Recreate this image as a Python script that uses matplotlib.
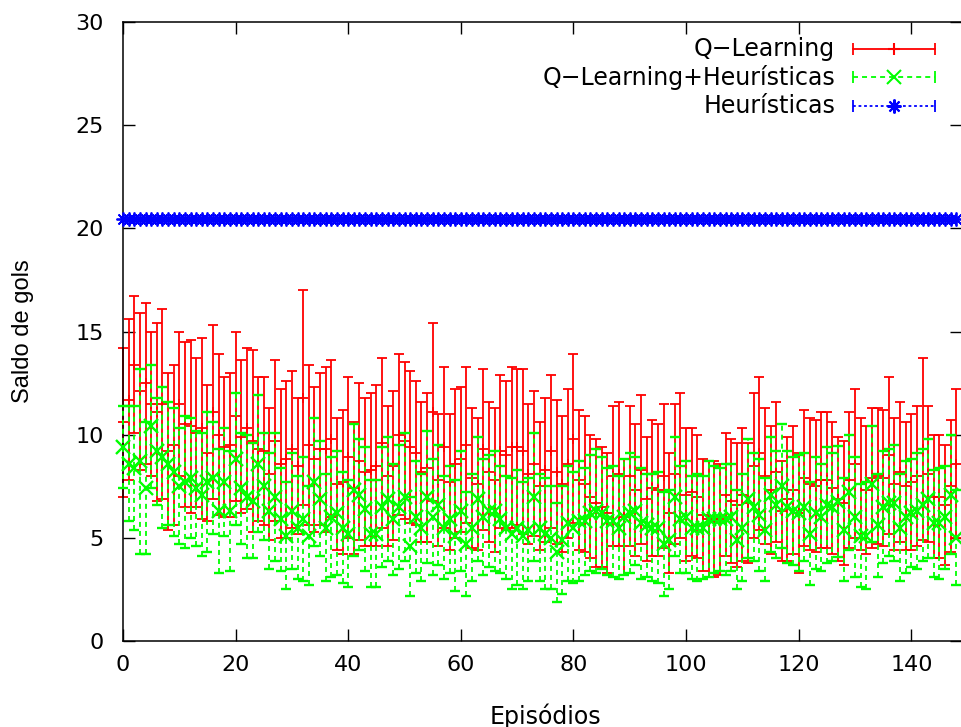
import numpy as np
import matplotlib
matplotlib.use("Agg")
import matplotlib.pyplot as plt
from matplotlib.lines import Line2D

plt.rcParams["font.family"] = ["DejaVu Sans"]
plt.rcParams["lines.scale_dashes"] = False

# ---- data ----
episodes = np.arange(149)

ql_mean = [
    10.6, 11.7, 13.4, 12.1, 12.5, 11.5, 11.1, 11.5, 9.2, 9.5,
    11.5, 10.5, 10.4, 10.1, 10.3, 9.1, 11.1, 10.0, 9.4, 9.5,
    10.9, 9.9, 10.3, 9.7, 9.3, 9.2, 8.1, 9.7, 8.6, 8.8,
    9.3, 8.5, 11.8, 9.5, 8.8, 9.3, 9.3, 9.8, 7.6, 7.7,
    8.9, 7.4, 8.7, 8.2, 8.3, 8.5, 9.6, 8.0, 8.5, 10.0,
    9.7, 9.4, 9.1, 8.2, 8.4, 11.1, 7.8, 9.4, 7.7, 8.6,
    8.8, 9.5, 7.9, 7.6, 9.3, 8.2, 7.8, 9.2, 9.0, 9.4,
    9.4, 9.2, 8.1, 8.6, 7.5, 8.3, 9.2, 8.2, 7.6, 8.6,
    9.8, 7.8, 7.6, 7.0, 6.7, 6.5, 6.2, 8.0, 8.1, 6.0,
    8.0, 7.3, 8.3, 6.9, 7.4, 7.3, 8.0, 6.2, 8.1, 8.5,
    7.1, 7.2, 7.0, 6.1, 5.9, 5.9, 5.9, 7.1, 6.8, 6.6,
    7.1, 6.7, 8.5, 9.1, 8.0, 7.3, 8.2, 6.3, 6.9, 7.3,
    6.2, 7.9, 7.6, 7.5, 7.8, 7.8, 7.4, 6.9, 6.7, 7.8,
    8.6, 7.6, 7.3, 7.9, 8.0, 7.9, 9.0, 7.6, 8.2, 7.5,
    7.7, 8.0, 9.3, 8.1, 7.0, 7.0, 6.6, 7.5, 8.6,
]
ql_err = [
    3.6, 3.9, 3.3, 3.8, 3.9, 3.5, 4.3, 4.6, 3.8, 3.9,
    3.5, 4.0, 4.2, 3.6, 4.4, 3.3, 4.2, 3.9, 3.4, 3.5,
    4.1, 3.7, 3.9, 4.4, 3.5, 3.6, 3.2, 3.9, 3.6, 3.8,
    3.8, 3.3, 5.2, 3.9, 3.5, 3.7, 4.0, 3.8, 3.2, 3.5,
    3.9, 3.2, 3.8, 3.6, 3.7, 3.9, 4.1, 3.4, 3.6, 3.9,
    3.8, 3.7, 3.5, 3.4, 3.6, 4.3, 3.2, 3.9, 3.3, 3.6,
    3.5, 3.8, 3.4, 3.2, 3.9, 3.4, 3.5, 3.7, 3.6, 3.9,
    3.8, 4.0, 3.4, 3.5, 3.1, 3.5, 3.7, 3.5, 3.3, 3.6,
    4.1, 3.4, 3.3, 3.0, 3.1, 2.9, 2.9, 3.4, 3.5, 2.8,
    3.4, 3.2, 3.6, 3.0, 3.3, 3.2, 3.5, 2.9, 3.4, 3.5,
    3.2, 3.1, 3.0, 2.7, 2.8, 2.8, 2.7, 3.0, 3.0, 3.0,
    3.2, 2.9, 3.5, 3.7, 3.3, 3.1, 3.4, 2.4, 3.0, 3.1,
    2.9, 3.3, 3.2, 3.2, 3.3, 3.3, 3.2, 3.0, 3.0, 3.3,
    3.6, 3.2, 3.1, 3.4, 3.3, 3.3, 3.8, 3.2, 3.4, 3.1,
    3.3, 3.4, 4.4, 3.3, 3.0, 3.0, 2.9, 3.2, 3.6,
]

qlh_mean = [
    9.4, 8.6, 8.4, 8.7, 7.4, 10.4, 9.2, 8.9, 8.6, 8.2,
    7.5, 7.7, 7.9, 7.4, 7.1, 7.7, 7.9, 6.3, 7.7, 6.3,
    8.8, 7.4, 7.0, 6.8, 8.6, 7.5, 6.3, 7.0, 5.9, 5.1,
    6.3, 5.5, 5.9, 5.1, 7.7, 6.9, 5.5, 6.0, 6.2, 5.5,
    5.2, 7.3, 7.1, 6.4, 5.2, 5.2, 6.5, 6.9, 5.9, 6.5,
    7.0, 4.6, 6.0, 5.5, 7.0, 6.0, 6.6, 5.5, 5.9, 5.1,
    6.3, 4.7, 5.5, 6.9, 6.0, 6.3, 6.3, 5.9, 5.5, 5.2,
    5.5, 5.1, 5.4, 7.0, 5.5, 5.2, 5.0, 4.3, 4.9, 5.7,
    5.5, 5.8, 5.8, 6.2, 6.3, 6.2, 5.8, 5.8, 5.5, 6.0,
    6.2, 6.3, 5.7, 5.6, 5.5, 5.5, 4.7, 4.9, 7.0, 5.9,
    6.0, 5.5, 5.5, 5.5, 5.9, 5.9, 5.9, 5.9, 6.0, 4.9,
    5.5, 6.9, 6.5, 6.1, 5.4, 7.1, 6.6, 7.5, 6.5, 6.3,
    6.2, 6.5, 5.2, 6.2, 6.0, 6.6, 6.5, 6.75, 5.4, 7.2,
    6.0, 5.1, 5.1, 7.6, 5.6, 6.5, 6.7, 6.7, 5.5, 6.0,
    6.2, 6.3, 6.6, 6.9, 5.7, 5.7, 6.0, 7.1, 5.0,
]
qlh_err = [
    2.0, 2.8, 3.0, 4.5, 3.2, 3.0, 2.6, 3.4, 3.0, 3.1,
    2.8, 3.2, 2.9, 2.8, 3.0, 3.4, 2.7, 3.0, 2.6, 2.9,
    3.2, 2.7, 3.0, 2.8, 3.3, 2.6, 2.8, 3.1, 2.5, 2.6,
    2.8, 2.5, 3.0, 2.4, 3.1, 2.8, 2.6, 2.9, 3.0, 2.7,
    2.6, 3.2, 2.7, 3.0, 2.6, 2.6, 2.9, 3.0, 2.7, 3.0,
    3.1, 2.4, 2.7, 2.6, 3.2, 2.8, 2.9, 2.5, 2.6, 2.7,
    2.9, 2.5, 2.6, 3.0, 2.8, 2.7, 2.9, 2.6, 2.5, 2.7,
    2.8, 2.6, 2.5, 3.1, 2.6, 2.7, 2.5, 2.4, 2.6, 2.8,
    2.7, 2.9, 2.6, 2.8, 3.0, 2.7, 2.6, 2.7, 2.5, 2.8,
    2.9, 2.6, 2.7, 2.5, 2.6, 2.7, 2.5, 2.4, 2.9, 2.6,
    2.7, 2.5, 2.6, 2.5, 2.8, 2.6, 2.5, 2.7, 2.6, 2.4,
    2.6, 2.9, 2.6, 2.7, 2.5, 2.8, 2.6, 3.0, 2.7, 2.6,
    2.8, 2.6, 2.5, 2.7, 2.6, 2.8, 2.6, 2.7, 2.5, 2.8,
    2.9, 2.5, 2.6, 2.8, 2.5, 2.7, 2.6, 2.8, 2.6, 2.7,
    2.6, 2.8, 2.7, 2.9, 2.6, 2.7, 2.5, 2.9, 2.3,
]

heur_value = 20.45
heur_mean = [heur_value] * len(episodes)

labels = ["Q−Learning", "Q−Learning+Heurísticas", "Heurísticas"]
colors = ["#ff0000", "#00ff00", "#0000ff"]

# ---- figure ----
W, H = 961, 727
fig = plt.figure(figsize=(W / 100, H / 100), dpi=100)
ax = fig.add_axes([123 / W, 86 / H, 839 / W, 619 / H])

red = ax.errorbar(episodes, ql_mean, yerr=ql_err, fmt="+", color=colors[0],
                  ms=7, mew=1.3, elinewidth=1.3, capsize=3.5, capthick=1.3,
                  zorder=2)
green = ax.errorbar(episodes, qlh_mean, yerr=qlh_err, fmt="x", color=colors[1],
                    ms=10, mew=1.7, elinewidth=1.3, capsize=3.5, capthick=1.3,
                    zorder=3)
green[2][0].set_linestyle((0, (3.6, 2.9)))
blue, = ax.plot(episodes, heur_mean, ls=(0, (2, 2)), color=colors[2],
                marker=(8, 2, 0), ms=10, mew=1.3, zorder=4)

# gnuplot draws the whole bar even at the x-range edge
for eb in (red, green):
    for art in [eb.lines[0], *eb.lines[1], *eb.lines[2]]:
        art.set_clip_on(False)
blue.set_clip_on(False)

ax.set_xlim(0, 149)
ax.set_ylim(0, 30)
ax.set_xticks(range(0, 141, 20))
ax.set_yticks(range(0, 31, 5))
ax.tick_params(axis="both", direction="in", length=8.6, width=1,
               top=True, right=True, labelsize=16, colors="black")
ax.tick_params(axis="y", pad=14)
ax.tick_params(axis="x", pad=10)
for s in ax.spines.values():
    s.set_linewidth(1.1)

fig.text(23 / W, 1 - 331 / H, "Saldo de gols", rotation=90,
         ha="center", va="center", fontsize=17, family="Liberation Sans")
fig.text(545 / W, 1 - 716 / H, "Episódios", ha="center", va="center",
         fontsize=17)

# ---- gnuplot-style key ----
key_y = [49, 77, 106]
styles = ["-", (0, (3.6, 2.9)), (0, (2, 2))]
markers = ["+", "x", (8, 2, 0)]
for lab, c, ls, mk, yy in zip(labels, colors, styles, markers, key_y):
    fy = 1 - yy / H
    fig.text(835 / W, fy, lab, ha="right", va="center", fontsize=17)
    fig.add_artist(Line2D([853 / W, 935 / W], [fy, fy], color=c, ls=ls, lw=1.3))
    fig.add_artist(Line2D([853 / W, 935 / W], [fy, fy], color=c, ls="none",
                          marker="|", ms=9, mew=1.3))
    fig.add_artist(Line2D([894 / W], [fy], color=c, ls="none", marker=mk,
                          ms=10 if mk != "+" else 9, mew=1.5))

fig.savefig("out.png", dpi=100)
